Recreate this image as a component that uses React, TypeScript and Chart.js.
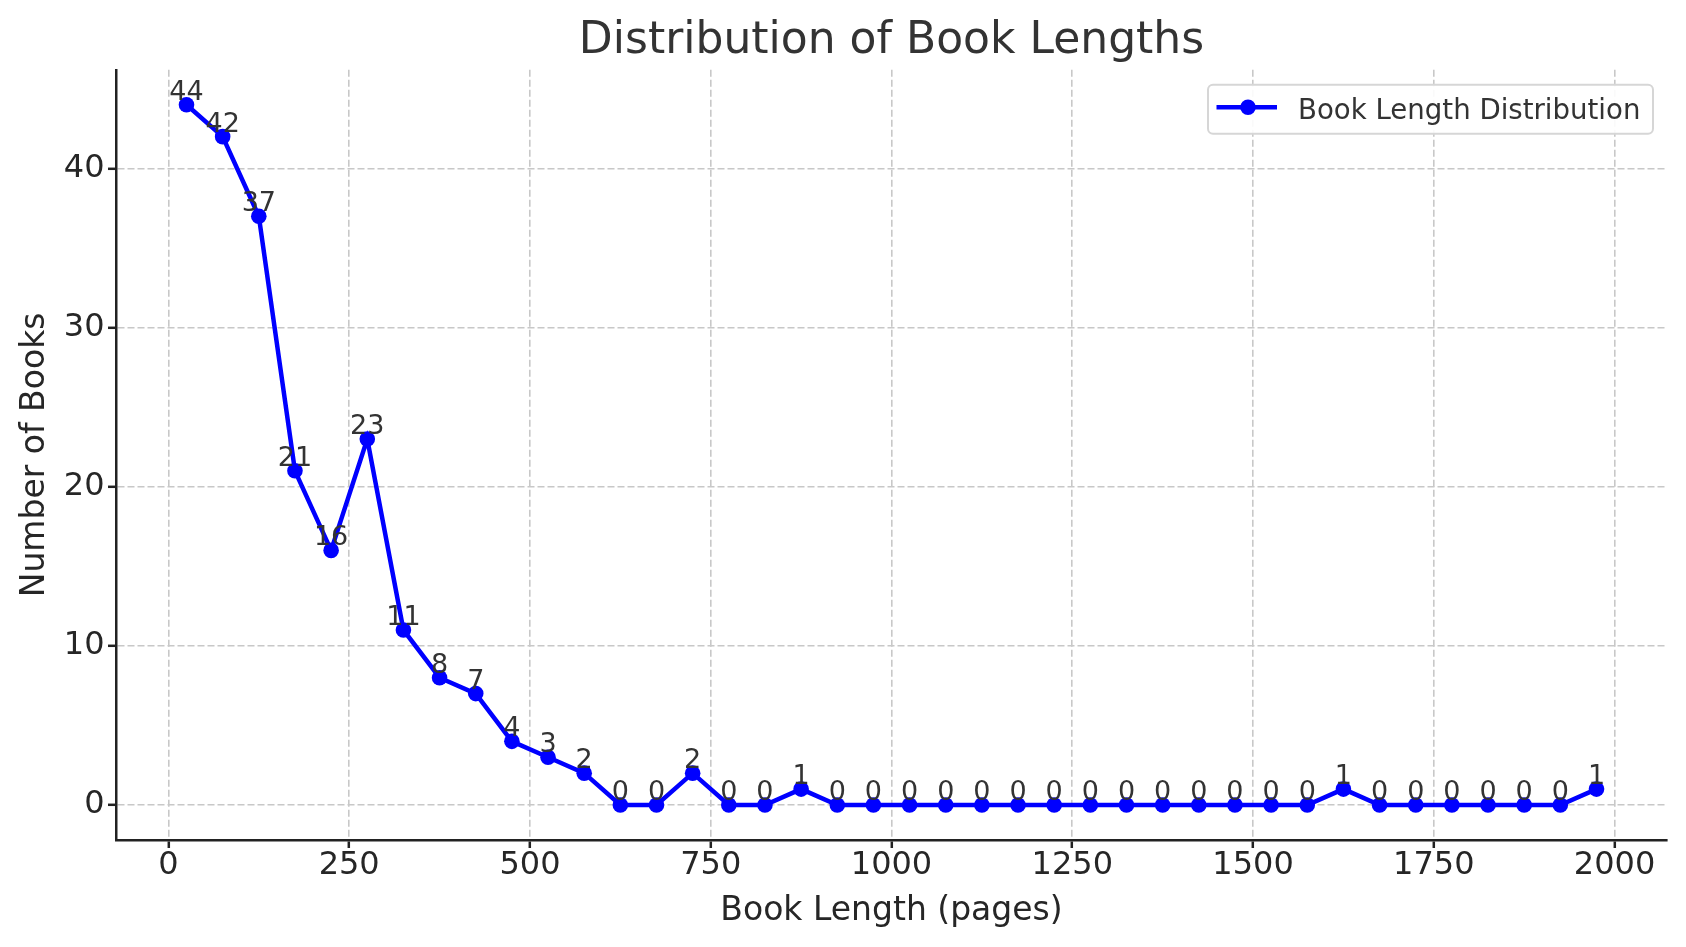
import React, { useEffect, useRef } from "react";
import { Chart, registerables } from "chart.js";
Chart.register(...registerables);

// bin centres (pages) and number of books in each 50-page bin
const binCenters = [
  25, 75, 125, 175, 225, 275, 325, 375, 425, 475, 525, 575, 625, 675, 725, 775, 825, 875, 925, 975,
  1025, 1075, 1125, 1175, 1225, 1275, 1325, 1375, 1425, 1475, 1525, 1575, 1625, 1675, 1725, 1775,
  1825, 1875, 1925, 1975,
];
const bookCounts = [
  44, 42, 37, 21, 16, 23, 11, 8, 7, 4, 3, 2, 0, 0, 2, 0, 0, 1, 0, 0,
  0, 0, 0, 0, 0, 0, 0, 0, 0, 0, 0, 0, 1, 0, 0, 0,
  0, 0, 0, 1,
];
const xTicks = [0, 250, 500, 750, 1000, 1250, 1500, 1750, 2000];
const yTicks = [0, 10, 20, 30, 40];

const seriesLabel = "Book Length Distribution";
const FONT = "'DejaVu Sans', sans-serif";
const BLUE = "#0000ff";

// value labels above every point
const pointLabels = {
  id: "pointLabels",
  afterDatasetsDraw(chart: Chart) {
    const ctx = chart.ctx;
    const meta = chart.getDatasetMeta(0);
    ctx.save();
    ctx.font = `27px ${FONT}`;
    ctx.fillStyle = "#333333";
    ctx.textAlign = "center";
    ctx.textBaseline = "alphabetic";
    meta.data.forEach((pt: any, i: number) => {
      ctx.fillText(String(bookCounts[i]), pt.x, pt.y - 5);
    });
    ctx.restore();
  },
};

// matplotlib-like legend box in the upper right of the plot area
const boxLegend = {
  id: "boxLegend",
  afterDraw(chart: Chart) {
    const ctx = chart.ctx;
    const area = chart.chartArea;
    const w = 445;
    const h = 49;
    const x = area.right - 14 - w;
    const y = area.top + 15;
    ctx.save();
    ctx.beginPath();
    ctx.roundRect(x, y, w, h, 5);
    ctx.fillStyle = "rgba(255,255,255,0.9)";
    ctx.fill();
    ctx.lineWidth = 2;
    ctx.strokeStyle = "#d6d6d6";
    ctx.stroke();

    const cy = y + 22.5;
    ctx.beginPath();
    ctx.moveTo(x + 8.5, cy);
    ctx.lineTo(x + 69, cy);
    ctx.lineWidth = 4.5;
    ctx.strokeStyle = BLUE;
    ctx.stroke();
    ctx.beginPath();
    ctx.arc(x + 40, cy, 7.8, 0, Math.PI * 2);
    ctx.fillStyle = BLUE;
    ctx.fill();

    ctx.font = `27.6px ${FONT}`;
    ctx.fillStyle = "#333333";
    ctx.textAlign = "left";
    ctx.textBaseline = "alphabetic";
    ctx.fillText(chart.data.datasets[0].label as string, x + 90, y + 34);
    ctx.restore();
  },
};

const BookLengthChart: React.FC = () => {
  const chartRef = useRef<HTMLCanvasElement | null>(null);
  const chartInstanceRef = useRef<Chart | null>(null);

  useEffect(() => {
    document.body.style.margin = "0";
    if (!chartRef.current) return;

    const gridOpts = {
      color: "#c8c8c8",
      lineWidth: 1.6,
      drawTicks: true,
      tickLength: 8,
      tickColor: "#222222",
      tickWidth: 2.5,
    };
    const borderOpts = { display: true, color: "#222222", width: 2.5, dash: [7, 3] };

    chartInstanceRef.current = new Chart(chartRef.current, {
      type: "line",
      data: {
        datasets: [
          {
            label: seriesLabel,
            data: binCenters.map((x, i) => ({ x, y: bookCounts[i] })),
            borderColor: BLUE,
            backgroundColor: BLUE,
            borderWidth: 4.5,
            pointRadius: 7.8,
            pointBorderWidth: 0,
            pointBackgroundColor: BLUE,
            tension: 0,
          },
        ],
      },
      options: {
        animation: false,
        responsive: true,
        maintainAspectRatio: false,
        layout: { padding: { left: 0, right: 19, top: 0, bottom: 0 } },
        plugins: {
          legend: { display: false },
          tooltip: { enabled: false },
          title: {
            display: true,
            text: "Distribution of Book Lengths",
            fullSize: false,
            color: "#333333",
            font: { family: FONT, size: 44, weight: "normal", lineHeight: 1.2 },
            padding: { top: 15, bottom: 2 },
          },
        },
        scales: {
          x: {
            type: "linear",
            min: -72.5,
            max: 2072.5,
            afterBuildTicks: (s: any) => {
              s.ticks = xTicks.map((v) => ({ value: v }));
            },
            afterFit: (s: any) => {
              s.height = 107;
            },
            grid: gridOpts,
            border: borderOpts,
            ticks: {
              color: "#262626",
              padding: 2,
              maxRotation: 0,
              autoSkip: false,
              callback: (v: any) => String(v),
              font: { family: FONT, size: 32, lineHeight: 1 },
            },
            title: {
              display: true,
              text: "Book Length (pages)",
              color: "#262626",
              font: { family: FONT, size: 33, lineHeight: 1.2 },
              padding: { top: 0, bottom: 16 },
            },
          },
          y: {
            type: "linear",
            min: -2.2,
            max: 46.2,
            afterBuildTicks: (s: any) => {
              s.ticks = yTicks.map((v) => ({ value: v }));
            },
            afterFit: (s: any) => {
              s.width = 116;
            },
            grid: gridOpts,
            border: borderOpts,
            ticks: {
              color: "#262626",
              padding: 3.5,
              autoSkip: false,
              callback: (v: any) => String(v),
              font: { family: FONT, size: 32, lineHeight: 1 },
            },
            title: {
              display: true,
              text: "Number of Books",
              color: "#262626",
              font: { family: FONT, size: 33, lineHeight: 1.2 },
              padding: { top: 15.4, bottom: 0 },
            },
          },
        },
      },
      plugins: [pointLabels, boxLegend],
    });

    return () => {
      if (chartInstanceRef.current) {
        chartInstanceRef.current.destroy();
        chartInstanceRef.current = null;
      }
    };
  }, []);

  return (
    <div style={{ width: 1686, height: 947, position: "relative", background: "#ffffff" }}>
      <canvas ref={chartRef} />
    </div>
  );
};

export default function App() {
  return <BookLengthChart />;
}
